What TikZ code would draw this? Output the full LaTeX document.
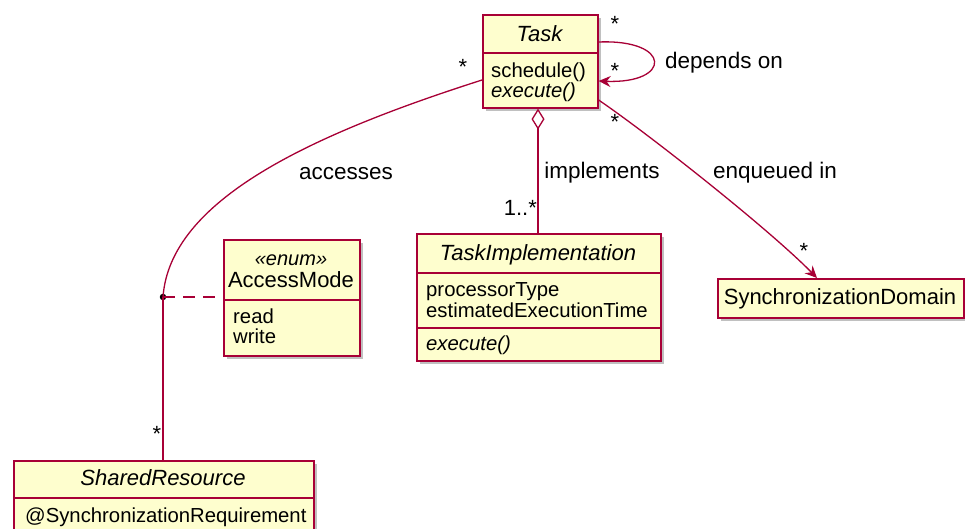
\documentclass[tikz,border=0pt]{standalone}
\usepackage{fontspec}
\setmainfont{Liberation Sans}
\usetikzlibrary{arrows.meta,shadows}
\definecolor{umlfill}{HTML}{FEFECE}
\definecolor{umlline}{HTML}{A80036}
\begin{document}
\begin{tikzpicture}[x=1pt,y=-1pt,
  cls/.style={draw=umlline, fill=umlfill, line width=1.6pt, anchor=north west, inner sep=0pt,
    drop shadow={shadow xshift=3.5pt, shadow yshift=-3.5pt, opacity=0.35, fill=black!70}},
  divider/.style={draw=umlline, line width=1.5pt},
  conn/.style={draw=umlline, line width=1.3pt},
  ttl/.style={anchor=base, inner sep=0pt, font=\fontsize{22}{26}\selectfont},
  mem/.style={anchor=base west, inner sep=0pt, font=\fontsize{20.3}{24}\selectfont},
  lbl/.style={anchor=base, inner sep=0pt, font=\fontsize{22.5}{26}\selectfont},
  mult/.style={anchor=base, inner sep=0pt, font=\fontsize{22}{26}\selectfont},
  tip/.style={-{Stealth[length=12pt,width=11pt,inset=4pt]}}
]
\useasboundingbox (0,0) rectangle (965,528);
\fill[white] (0,0) rectangle (965,528);

% ---------- classes ----------
\node[cls, minimum width=115pt, minimum height=93pt] (task) at (482,14) {};
\draw[divider] (task.west |- 0,53) -- (task.east |- 0,53);
\node[ttl] (taskT) at (539.5,41) {\itshape Task};
\node[mem] (taskM1) at (491,77) {schedule()};
\node[mem] (taskM2) at (491,97) {\itshape execute()};

\node[cls, minimum width=136pt, minimum height=116pt] (amode) at (223,239) {};
\draw[divider] (amode.west |- 0,300) -- (amode.east |- 0,300);
\node[ttl, font=\fontsize{20}{24}\selectfont] (amodeS) at (291,265) {\itshape «enum»};
\node[ttl] (amodeT) at (291,287) {AccessMode};
\node[mem] (amodeM1) at (233,323) {read};
\node[mem] (amodeM2) at (233,343) {write};

\node[cls, minimum width=244pt, minimum height=127pt] (timpl) at (416,233) {};
\draw[divider] (timpl.west |- 0,273) -- (timpl.east |- 0,273);
\draw[divider] (timpl.west |- 0,328) -- (timpl.east |- 0,328);
\node[ttl] (timplT) at (538,260) {\itshape TaskImplementation};
\node[mem] (timplM1) at (426,296) {processorType};
\node[mem] (timplM2) at (426,317) {estimatedExecutionTime};
\node[mem] (timplM3) at (426,350) {\itshape execute()};

\node[cls, minimum width=246pt, minimum height=39pt] (sync) at (717,278) {};
\node[ttl] (syncT) at (840,304) {SynchronizationDomain};

\node[cls, minimum width=300pt, minimum height=90pt] (shared) at (13,460) {};
\draw[divider] (shared.west |- 0,498) -- (shared.east |- 0,498);
\node[ttl] (sharedT) at (163,485) {\itshape SharedResource};
\node[mem] (sharedM1) at (25,522) {@SynchronizationRequirement};

% ---------- connectors ----------
\node[circle, fill=black, inner sep=0pt, minimum size=6.5pt] (dot) at (163,297) {};

% self loop: depends on
\draw[conn, tip] (task.east |- 0,42) .. controls (672,39) and (672,84) .. (task.east |- 0,81);
% accesses
\draw[conn] (task.west |- 0,80) .. controls (310,135) and (170,200) .. (dot.center);
\draw[conn] (dot.center) -- (shared.north -| dot.center);
\draw[conn, dash pattern=on 12pt off 8pt] (dot.center) -- (amode.west |- dot.center);
% implements
\draw[conn, {Diamond[fill=white,length=21pt,width=13pt]}-] (task.south -| 538,0) -- (timpl.north -| 538,0);
% enqueued in
\draw[conn, tip] (task.east |- 0,100) .. controls (650,135) and (770,230) .. (sync.north -| 817,0);

% ---------- labels ----------
\node[lbl] (lDep) at (724,68) {depends on};
\node[lbl] (lAcc) at (346,179) {accesses};
\node[lbl] (lImp) at (602,178) {implements};
\node[lbl] (lEnq) at (775,178) {enqueued in};

\node[mult] (m1) at (615,31) {*};
\node[mult] (m2) at (615,78) {*};
\node[mult] (m3) at (463,74) {*};
\node[mult] (m4) at (615,129) {*};
\node[mult] (m5) at (804,258) {*};
\node[mult] (m6) at (157,441) {*};
\node[mult, anchor=base east] (m7) at (537,215) {1..*};
\end{tikzpicture}
\end{document}
